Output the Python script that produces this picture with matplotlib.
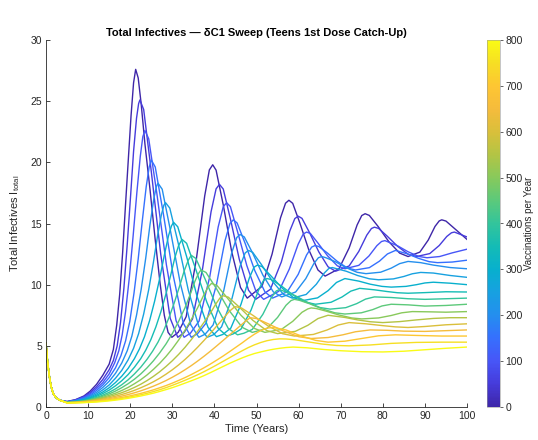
#!/usr/bin/env python3
# -*- coding: utf-8 -*-

# Total infectives vs time, one curve per catch-up vaccination rate (teens, 1st dose)

import numpy as np
import matplotlib
matplotlib.use("Agg")
import matplotlib.pyplot as plt
from matplotlib.colors import LinearSegmentedColormap, Normalize
from matplotlib.cm import ScalarMappable

plt.rcParams['font.family'] = ['Liberation Sans', 'DejaVu Sans']
plt.rcParams['mathtext.fontset'] = 'custom'
plt.rcParams['mathtext.rm'] = 'Liberation Sans'

# vaccinations per year for each run
rates = [0, 50, 100, 150, 200, 250, 300, 350, 400, 450, 500, 550, 600, 650, 700, 750, 800]

# all runs share the same initial drop
t_start = [0, 0.4, 0.8, 1.2, 1.7, 2.4, 3.3]
i_start = [5.2, 3.6, 2.5, 1.7, 1.1, 0.75, 0.55]

t_r000 = [5, 7, 9, 10.5, 12, 13.5, 15, 16, 16.8, 17.5,
          18.2, 18.9, 19.6, 20.2, 20.8, 21.3, 21.9, 22.6, 23.5, 24.7,
          25.9, 27.1, 28.1, 29.0, 29.9, 31.4, 33.3, 35.7, 37.7, 38.8,
          39.6, 40.4, 42.1, 44.1, 46.2, 47.8, 51.3, 53.7, 55.7, 56.9,
          57.7, 58.6, 60.3, 62.4, 64.6, 66.3, 69.6, 72.0, 73.9, 75.0,
          75.8, 76.8, 78.9, 81.4, 84.0, 86.0, 88.8, 90.8, 92.4, 93.4,
          94.0, 95.0, 97.0, 100]
i_r000 = [.45, .6, .9, 1.3, 1.85, 2.6, 3.5, 4.7, 6.7, 9.2,
          12.6, 16.6, 20.5, 23.8, 26.5, 27.6, 26.9, 24.8, 21.5, 17.8,
          13.8, 10.1, 7.5, 6.1, 5.7, 6.1, 7.39, 12.05, 17.26, 19.38,
          19.8, 19.36, 16.53, 12.71, 9.77, 8.9, 9.86, 12.5, 15.46, 16.66,
          16.9, 16.65, 15.04, 12.87, 11.2, 10.7, 11.31, 13.0, 14.88, 15.65,
          15.8, 15.66, 14.75, 13.53, 12.58, 12.3, 12.66, 13.65, 14.76, 15.21,
          15.3, 15.2, 14.6, 13.7]

t_r050 = [5, 7, 9, 10.5, 12, 13.5, 15, 16, 16.9, 17.7,
          18.5, 19.3, 20.1, 20.8, 21.5, 22.0, 22.3, 23.2, 25.0, 27.25,
          29.5, 31.3, 32.8, 34.8, 37.2, 39.2, 40.4, 41.2, 42.1, 43.8,
          45.9, 48.1, 49.8, 53.3, 55.9, 57.9, 59.1, 59.9, 60.8, 62.6,
          64.8, 67.0, 68.8, 72.0, 74.3, 76.2, 77.3, 78.0, 79.0, 81.0,
          83.5, 86.0, 88.0, 91.15, 93.4, 95.2, 96.3, 97.0, 100]
i_r050 = [.44, .58, .85, 1.18, 1.65, 2.25, 3.05, 3.8, 5.0, 6.9,
          9.7, 13.3, 17.3, 20.9, 23.6, 24.8, 25.1, 24.32, 19.28, 12.49,
          7.25, 5.7, 6.08, 7.2, 11.33, 15.95, 17.83, 18.2, 17.82, 15.38,
          12.09, 9.55, 8.8, 9.62, 11.86, 14.38, 15.4, 15.6, 15.42, 14.25,
          12.68, 11.46, 11.1, 11.53, 12.72, 14.05, 14.59, 14.7, 14.6, 13.98,
          13.14, 12.49, 12.3, 12.54, 13.2, 13.94, 14.24, 14.3, 13.9]

t_r100 = [5, 7, 9, 10.5, 12, 13.5, 15, 16.3, 17.3, 18.1,
          18.9, 19.8, 20.7, 21.6, 22.4, 23.0, 23.5, 24.4, 26.3, 28.6,
          30.9, 32.8, 34.3, 36.35, 38.9, 40.9, 42.1, 42.9, 43.8, 45.5,
          47.7, 49.9, 51.7, 55.3, 57.8, 59.9, 61.1, 61.9, 62.8, 64.6,
          66.9, 69.2, 71.0, 74.3, 76.7, 78.6, 79.7, 80.5, 83.5, 86.0,
          88.5, 90.5, 93.5, 96.5, 100]
i_r100 = [.43, .55, .8, 1.08, 1.5, 2.0, 2.7, 3.6, 4.6, 5.9,
          7.8, 10.6, 14.0, 17.6, 20.5, 22.1, 22.6, 21.92, 17.53, 11.62,
          7.05, 5.7, 6.03, 7.02, 10.65, 14.72, 16.37, 16.7, 16.38, 14.33,
          11.56, 9.43, 8.8, 9.46, 11.28, 13.31, 14.14, 14.3, 14.18, 13.4,
          12.35, 11.54, 11.3, 11.58, 12.34, 13.19, 13.53, 13.6, 13.18, 12.69,
          12.31, 12.2, 12.3, 12.6, 12.9]

t_r150 = [5, 7, 9, 10.5, 12, 13.5, 15, 16.5, 17.8, 18.9,
          19.9, 20.9, 21.9, 22.9, 23.8, 24.5, 25.0, 25.95, 27.85, 30.2,
          32.6, 34.5, 36.0, 38.0, 40.5, 42.5, 43.7, 44.5, 45.4, 47.3,
          49.6, 52.0, 53.8, 57.3, 59.9, 61.9, 63.1, 63.9, 64.8, 66.8,
          69.2, 71.6, 73.5, 76.8, 79.2, 81.1, 83.0, 86.0, 88.5, 91.0,
          93.0, 96.5, 100]
i_r150 = [.42, .52, .74, .98, 1.35, 1.8, 2.4, 3.2, 4.2, 5.4,
          7.0, 9.3, 12.1, 15.3, 18.0, 19.6, 20.2, 19.62, 15.85, 10.78,
          6.86, 5.7, 5.99, 6.85, 10.02, 13.57, 15.01, 15.3, 15.04, 13.38,
          11.14, 9.41, 8.9, 9.42, 10.84, 12.43, 13.07, 13.2, 13.12, 12.6,
          11.9, 11.36, 11.2, 11.39, 11.92, 12.51, 12.8, 12.5, 12.15, 11.88,
          11.8, 11.85, 12.0]

t_r200 = [5, 7, 9, 10.5, 12, 13.5, 15, 16.5, 18, 19.3,
          20.4, 21.5, 22.6, 23.7, 24.7, 25.6, 26.2, 26.6, 27.6, 29.5,
          31.9, 34.4, 36.3, 37.8, 39.7, 42.2, 44.1, 45.3, 46.1, 47.1,
          49.1, 51.5, 54.0, 56.0, 59.3, 61.7, 63.6, 64.7, 65.5, 66.5,
          68.7, 71.3, 73.9, 76.0, 79.5, 82.0, 84.0, 86.0, 89.0, 92.0,
          96.0, 100]
i_r200 = [.41, .5, .68, .9, 1.2, 1.6, 2.1, 2.75, 3.6, 4.6,
          5.8, 7.5, 9.6, 12.2, 14.9, 17.0, 18.0, 18.3, 17.8, 14.52,
          10.11, 6.71, 5.7, 5.95, 6.71, 9.48, 12.59, 13.85, 14.1, 13.9,
          12.57, 10.79, 9.41, 9.0, 9.4, 10.49, 11.71, 12.2, 12.3, 12.2,
          11.88, 11.39, 11.01, 10.9, 11.02, 11.35, 11.72, 11.9, 11.8, 11.6,
          11.4, 11.3]

t_r250 = [5, 7, 9, 10.5, 12, 13.5, 15, 16.5, 18, 19.5,
          20.8, 22, 23.2, 24.4, 25.5, 26.5, 27.4, 28.0, 28.4, 29.4,
          31.4, 33.8, 36.3, 38.3, 39.8, 41.7, 44.2, 46.1, 47.3, 48.1,
          49.1, 51.2, 53.8, 56.4, 58.5, 61.8, 64.2, 66.1, 67.2, 68.0,
          71.3, 74.0, 76.8, 79.0, 82.5, 85.0, 87.0, 89.0, 92.0, 96.0,
          100]
i_r250 = [.4, .48, .63, .82, 1.07, 1.4, 1.8, 2.35, 3.0, 3.85,
          4.8, 6.0, 7.6, 9.6, 11.8, 14.0, 15.7, 16.5, 16.7, 16.26,
          13.4, 9.55, 6.58, 5.7, 5.91, 6.55, 8.9, 11.52, 12.59, 12.8,
          12.64, 11.63, 10.27, 9.21, 8.9, 9.2, 10.03, 10.95, 11.33, 11.4,
          11.1, 10.75, 10.48, 10.4, 10.47, 10.67, 10.89, 11.0, 10.95, 10.75,
          10.6]

t_r300 = [5, 7, 9, 10.5, 12, 13.5, 15, 16.5, 18, 19.5,
          21, 22.2, 23.4, 24.6, 25.8, 27, 28.1, 29.1, 29.8, 30.3,
          31.3, 33.4, 35.9, 38.5, 40.5, 42.0, 43.9, 46.3, 48.3, 49.4,
          50.2, 51.3, 53.4, 56.1, 58.8, 61.0, 64.5, 67.0, 69.0, 71.0,
          74.3, 77.0, 79.8, 82.0, 85.5, 88.0, 90.0, 92.0, 96.0, 100]
i_r300 = [.39, .46, .59, .75, .96, 1.23, 1.57, 2.0, 2.52, 3.15,
          3.95, 4.75, 5.75, 7.05, 8.65, 10.5, 12.4, 14.0, 14.8, 15.1,
          14.73, 12.3, 9.02, 6.5, 5.75, 5.93, 6.45, 8.38, 10.55, 11.42,
          11.6, 11.48, 10.73, 9.72, 8.93, 8.7, 8.92, 9.51, 10.18, 10.5,
          10.29, 10.04, 9.86, 9.8, 9.86, 10.0, 10.14, 10.2, 10.12, 10.0]

t_r350 = [5, 7, 9, 10.5, 12, 13.5, 15, 16.5, 18, 19.5,
          21, 22.5, 23.7, 24.9, 26.1, 27.3, 28.5, 29.6, 30.6, 31.5,
          32.3, 33.4, 35.5, 38.2, 40.9, 43.0, 44.5, 46.3, 48.7, 50.6,
          51.7, 52.5, 53.5, 56.0, 58.8, 61.7, 64.0, 67.7, 70.3, 72.4,
          74.5, 78.0, 81.0, 83.5, 86.0, 90.0, 95.0, 100]
i_r350 = [.38, .44, .55, .69, .87, 1.1, 1.38, 1.73, 2.15, 2.65,
          3.25, 3.95, 4.65, 5.5, 6.55, 7.8, 9.25, 10.75, 12.2, 13.2,
          13.7, 13.38, 11.33, 8.57, 6.43, 5.8, 5.98, 6.36, 7.92, 9.65,
          10.36, 10.5, 10.42, 9.87, 9.13, 8.57, 8.4, 8.56, 8.99, 9.47,
          9.7, 9.58, 9.44, 9.34, 9.3, 9.35, 9.42, 9.4]

t_r400 = [5, 7, 9, 10.5, 12, 13.5, 15, 16.5, 18, 19.5,
          21, 22.5, 24, 25.3, 26.6, 27.9, 29.2, 30.5, 31.7, 32.8,
          33.8, 34.5, 35.6, 37.8, 40.55, 43.3, 45.5, 47.0, 49.0, 51.5,
          53.5, 54.7, 55.5, 59.1, 62.1, 65.1, 67.5, 71.2, 73.8, 75.9,
          78.0, 82.0, 86.0, 90.0, 95.0, 100]
i_r400 = [.37, .42, .51, .63, .78, .97, 1.2, 1.48, 1.82, 2.22,
          2.7, 3.25, 3.9, 4.55, 5.3, 6.2, 7.3, 8.55, 9.85, 11.1,
          12.0, 12.4, 12.14, 10.45, 8.18, 6.42, 5.9, 6.03, 6.34, 7.57,
          8.93, 9.49, 9.6, 9.12, 8.56, 8.13, 8.0, 8.12, 8.45, 8.82,
          9.0, 8.95, 8.85, 8.8, 8.85, 8.9]

t_r450 = [5, 7, 9, 10.5, 12, 13.5, 15, 16.5, 18, 19.5,
          21, 22.5, 24, 25.5, 27, 28.5, 30, 31.5, 33, 34.3,
          35.4, 36.2, 36.8, 38.0, 40.5, 43.5, 46.6, 49.0, 52.5, 55.0,
          57.0, 58.2, 59.0, 60.2, 62.6, 65.6, 68.6, 71.0, 74.9, 77.6,
          79.8, 82.0, 86.0, 90.0, 95.0, 100]
i_r450 = [.37, .41, .49, .59, .72, .88, 1.07, 1.3, 1.58, 1.9,
          2.27, 2.7, 3.2, 3.77, 4.42, 5.15, 6.0, 7.0, 8.1, 9.25,
          10.3, 10.9, 11.2, 11.0, 9.67, 7.89, 6.51, 6.1, 6.42, 7.32,
          8.31, 8.7, 8.8, 8.72, 8.44, 8.02, 7.7, 7.6, 7.7, 7.96,
          8.26, 8.4, 8.35, 8.25, 8.3, 8.4]

t_r500 = [5, 7, 9, 10.5, 12, 13.5, 15, 16.5, 18, 19.5,
          21, 22.5, 24, 25.5, 27, 28.5, 30, 31.5, 33, 34.5,
          36, 37.4, 38.5, 39.3, 40.6, 43.1, 46.3, 49.5, 52.0, 55.9,
          58.6, 60.8, 62.2, 63.0, 64.2, 66.6, 69.6, 72.6, 75.0, 79.0,
          82.0, 84.5, 87.0, 91.0, 95.0, 100]
i_r500 = [.36, .4, .47, .55, .66, .79, .95, 1.13, 1.35, 1.6,
          1.9, 2.23, 2.62, 3.07, 3.57, 4.13, 4.76, 5.47, 6.27, 7.15,
          8.1, 9.1, 9.8, 10.1, 9.94, 8.9, 7.5, 6.42, 6.1, 6.34,
          7.0, 7.74, 8.02, 8.1, 8.05, 7.83, 7.52, 7.28, 7.2, 7.28,
          7.48, 7.7, 7.8, 7.78, 7.75, 7.8]

t_r550 = [5, 7, 9, 10.5, 12, 13.5, 15, 16.5, 18, 19.5,
          21, 22.5, 24, 25.5, 27, 28.5, 30, 31.5, 33, 34.5,
          36, 37.5, 39, 40.3, 41.3, 42.0, 43.3, 45.9, 49.15, 52.4,
          55.0, 59.2, 62.2, 64.6, 67.0, 71.0, 74.0, 77.0, 80.0, 84.0,
          88.0, 92.0, 96.0, 100]
i_r550 = [.36, .39, .45, .52, .61, .72, .85, 1.0, 1.17, 1.37,
          1.6, 1.86, 2.16, 2.5, 2.88, 3.31, 3.78, 4.3, 4.87, 5.5,
          6.18, 6.9, 7.65, 8.4, 8.9, 9.1, 8.98, 8.17, 7.08, 6.25,
          6.0, 6.18, 6.68, 7.23, 7.5, 7.32, 7.12, 6.97, 6.9, 6.98,
          7.12, 7.24, 7.3, 7.3]

t_r600 = [5, 7, 9, 10.5, 12, 13.5, 15, 16.5, 18, 19.5,
          21, 22.5, 24, 25.5, 27, 28.5, 30, 31.5, 33, 34.5,
          36, 37.5, 39, 40.5, 42, 43.5, 44.5, 45.0, 46.4, 49.2,
          52.7, 56.2, 59.0, 63.5, 66.8, 69.4, 72.0, 76.0, 80.0, 83.0,
          86.0, 90.0, 95.0, 100]
i_r600 = [.35, .38, .43, .49, .56, .65, .76, .88, 1.02, 1.18,
          1.36, 1.57, 1.8, 2.06, 2.35, 2.68, 3.04, 3.44, 3.88, 4.36,
          4.88, 5.43, 6.0, 6.6, 7.2, 7.8, 8.1, 8.2, 8.1, 7.48,
          6.64, 5.99, 5.8, 5.93, 6.3, 6.7, 6.9, 6.8, 6.65, 6.55,
          6.5, 6.58, 6.72, 6.8]

t_r650 = [5, 7, 9, 10.5, 12, 13.5, 15, 16.5, 18, 19.5,
          21, 22.5, 24, 25.5, 27, 28.5, 30, 31.5, 33, 34.5,
          36, 37.5, 39, 40.5, 42, 43.5, 45, 46.5, 47.7, 48.5,
          50.0, 52.85, 56.5, 60.1, 63.0, 67.0, 70.5, 73.5, 77.0, 81.0,
          85.0, 90.0, 95.0, 100]
i_r650 = [.35, .37, .41, .46, .52, .59, .68, .78, .89, 1.02,
          1.16, 1.32, 1.5, 1.7, 1.92, 2.16, 2.43, 2.72, 3.04, 3.38,
          3.75, 4.14, 4.55, 4.98, 5.42, 5.86, 6.3, 6.75, 7.1, 7.3,
          7.23, 6.79, 6.2, 5.74, 5.6, 5.68, 5.9, 6.15, 6.3, 6.27,
          6.2, 6.18, 6.24, 6.3]

t_r700 = [5, 7, 9, 10.5, 12, 13.5, 15, 16.5, 18, 19.5,
          21, 22.5, 24, 25.5, 27, 28.5, 30, 31.5, 33, 34.5,
          36, 37.5, 39, 40.5, 42, 43.5, 45, 46.5, 48, 49.5,
          51, 52.5, 54, 57, 60.5, 64, 67, 71, 75, 79,
          83, 88, 94, 100]
i_r700 = [.34, .36, .39, .43, .48, .54, .61, .69, .78, .88,
          .99, 1.11, 1.25, 1.4, 1.57, 1.75, 1.95, 2.17, 2.4, 2.65,
          2.92, 3.2, 3.5, 3.82, 4.15, 4.5, 4.86, 5.22, 5.6, 5.95,
          6.25, 6.45, 6.5, 6.3, 5.82, 5.45, 5.3, 5.38, 5.6, 5.82,
          5.9, 5.85, 5.8, 5.8]

t_r750 = [5, 7, 9, 10.5, 12, 13.5, 15, 16.5, 18, 19.5,
          21, 22.5, 24, 25.5, 27, 28.5, 30, 31.5, 33, 34.5,
          36, 37.5, 39, 40.5, 42, 43.5, 45, 46.5, 48, 49.5,
          51, 52.5, 54, 55.5, 57, 59, 62, 65.5, 69, 72,
          77, 82, 88, 94, 100]
i_r750 = [.34, .35, .37, .4, .44, .49, .55, .62, .7, .79,
          .89, 1.0, 1.12, 1.26, 1.41, 1.58, 1.77, 1.97, 2.18, 2.4,
          2.63, 2.88, 3.15, 3.43, 3.72, 4.01, 4.3, 4.58, 4.85, 5.08,
          5.27, 5.42, 5.52, 5.57, 5.56, 5.5, 5.34, 5.15, 5.03, 5.0,
          5.07, 5.2, 5.28, 5.3, 5.3]

t_r800 = [5, 7, 9, 10.5, 12, 13.5, 15, 16.5, 18, 19.5,
          21, 22.5, 24, 25.5, 27, 28.5, 30, 31.5, 33, 34.5,
          36, 37.5, 39, 40.5, 42, 43.5, 45, 46.5, 48, 49.5,
          51, 52.5, 54, 55.5, 57, 58.7, 62, 66, 70, 75,
          80, 85, 90, 95, 100]
i_r800 = [.33, .34, .36, .38, .41, .45, .5, .56, .63, .71,
          .8, .9, 1.01, 1.13, 1.27, 1.42, 1.58, 1.76, 1.95, 2.14,
          2.34, 2.56, 2.8, 3.05, 3.3, 3.55, 3.78, 4.0, 4.2, 4.37,
          4.5, 4.62, 4.72, 4.8, 4.86, 4.9, 4.84, 4.7, 4.6, 4.52,
          4.5, 4.56, 4.68, 4.8, 4.9]

runs = [(t_r000, i_r000), (t_r050, i_r050), (t_r100, i_r100), (t_r150, i_r150),
        (t_r200, i_r200), (t_r250, i_r250), (t_r300, i_r300), (t_r350, i_r350),
        (t_r400, i_r400), (t_r450, i_r450), (t_r500, i_r500), (t_r550, i_r550),
        (t_r600, i_r600), (t_r650, i_r650), (t_r700, i_r700), (t_r750, i_r750),
        (t_r800, i_r800)]

# parula-like colormap (MATLAB default)
parula_pts = [
    (0.000, (0.2422, 0.1504, 0.6603)),
    (0.063, (0.2738, 0.2352, 0.8620)),
    (0.125, (0.2780, 0.3380, 0.9700)),
    (0.188, (0.2100, 0.4400, 0.9950)),
    (0.250, (0.1400, 0.5600, 0.9350)),
    (0.313, (0.0900, 0.6300, 0.8800)),
    (0.375, (0.0300, 0.6900, 0.8050)),
    (0.438, (0.0800, 0.7350, 0.7100)),
    (0.500, (0.2000, 0.7700, 0.6100)),
    (0.563, (0.3600, 0.7900, 0.4800)),
    (0.625, (0.5300, 0.7900, 0.3600)),
    (0.688, (0.7000, 0.7700, 0.2700)),
    (0.750, (0.8500, 0.7500, 0.2300)),
    (0.813, (0.9600, 0.7350, 0.2350)),
    (0.875, (0.9950, 0.7750, 0.2000)),
    (0.938, (0.9650, 0.8700, 0.1400)),
    (1.000, (0.9769, 0.9839, 0.0805)),
]
parula = LinearSegmentedColormap.from_list("parula", parula_pts)

# layout (pixels on a 538x440 canvas)
W, H = 538, 440
ax_box = [46 / W, 33 / H, 421 / W, 367 / H]
cb_box = [487 / W, 33 / H, 13 / W, 367 / H]
axis_col = "#262626"
fs_ticks = 7.5
fs_lab = 8


def main():
    fig = plt.figure(figsize=(W / 100, H / 100), dpi=100)
    ax = fig.add_axes(ax_box)
    norm = Normalize(vmin=min(rates), vmax=max(rates))

    for rate, (t, i) in zip(rates, runs):
        ax.plot(t_start + t, i_start + i, color=parula(norm(rate)), lw=1.0)

    ax.set_xlim(0, 100)
    ax.set_ylim(0, 30)
    ax.set_xticks(np.arange(0, 101, 10))
    ax.set_yticks(np.arange(0, 31, 5))
    for s in ("top", "right"):
        ax.spines[s].set_visible(False)
    for s in ("left", "bottom"):
        ax.spines[s].set_color(axis_col)
        ax.spines[s].set_linewidth(0.6)
    ax.tick_params(direction="in", length=3, width=0.6, colors=axis_col,
                   labelsize=fs_ticks, pad=3)

    ax.set_xlabel("Time (Years)", fontsize=fs_lab, color=axis_col, labelpad=2)
    ax.set_ylabel(r"Total Infectives I$_{\rm total}$", fontsize=fs_lab,
                  color=axis_col, labelpad=6)
    ax.set_title("Total Infectives \u2014 \u03b4C1 Sweep (Teens 1st Dose Catch-Up)",
                 fontsize=8, fontweight="bold", color="black", pad=3)

    cax = fig.add_axes(cb_box)
    cb = fig.colorbar(ScalarMappable(norm=norm, cmap=parula), cax=cax)
    cb.set_ticks(np.arange(0, 801, 100))
    cb.outline.set_linewidth(0.4)
    cb.outline.set_edgecolor("#999999")
    cax.tick_params(direction="out", length=2, width=0.5, colors=axis_col,
                    labelsize=fs_ticks, pad=2)
    cb.set_label("Vaccinations per Year", fontsize=fs_ticks - 0.5, color=axis_col,
                 labelpad=1)

    fig.savefig("out.png", dpi=100)


if __name__ == "__main__":
    main()
